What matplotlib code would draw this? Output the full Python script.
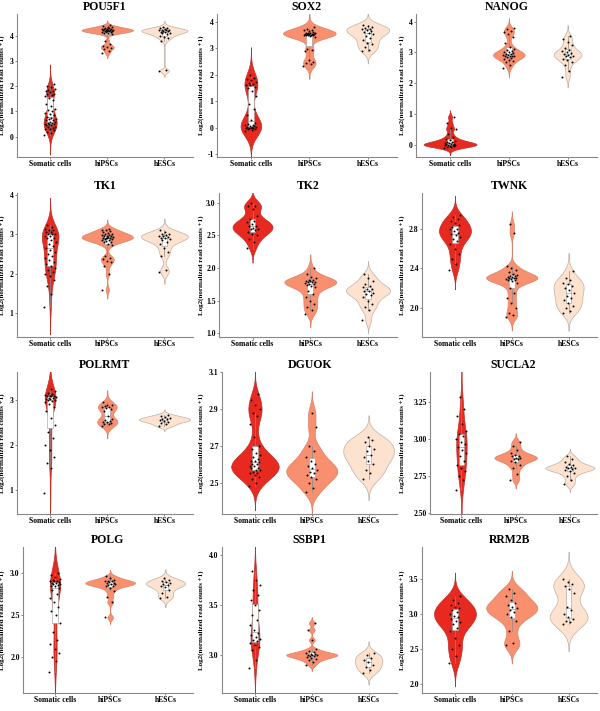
import numpy as np
import matplotlib
matplotlib.use("Agg")
import matplotlib.pyplot as plt
from matplotlib.patches import Rectangle
from matplotlib.transforms import blended_transform_factory

groups = ["Somatic cells", "hiPSCs", "hESCs"]
genes = ["POU5F1", "SOX2", "NANOG", "TK1", "TK2", "TWNK",
         "POLRMT", "DGUOK", "SUCLA2", "POLG", "SSBP1", "RRM2B"]

# ---- values per gene, per group (Somatic cells, hiPSCs, hESCs) ----
pou5f1_som = [0.05,0.15,0.2,0.25,0.3,0.3,0.35,0.4,0.4,0.45,0.45,0.5,0.5,0.5,0.55,0.55,0.6,0.6,0.65,0.65,0.7,0.7,0.75,0.8,0.85,0.9,0.95,1.0,1.05,1.1,1.2,1.3,1.45,1.55,1.6,1.65,1.7,1.7,1.75,1.8,1.8,1.85,1.9,1.95,2.0,2.1]
pou5f1_ips = [3.3,3.4,3.48,3.52,3.55,3.58,3.65,3.8,4.05,4.08,4.1,4.12,4.14,4.15,4.16,4.17,4.18,4.19,4.2,4.2,4.21,4.22,4.23,4.24,4.25,4.26,4.27,4.28,4.3,4.32,4.34,4.37,4.4]
pou5f1_esc = [2.6,2.62,3.8,3.9,3.95,4.0,4.05,4.08,4.1,4.12,4.15,4.17,4.18,4.2,4.2,4.22,4.23,4.25,4.28,4.3,4.35]

sox2_som = [-0.12,-0.08,-0.05,-0.03,-0.02,0,0,0.01,0.02,0.03,0.05,0.06,0.08,0.1,0.12,0.15,0.2,0.3,0.5,0.7,0.9,1.2,1.4,1.5,1.55,1.6,1.62,1.65,1.7,1.75,1.8,1.85,1.9,2.0]
sox2_ips = [2.35,2.4,2.45,2.5,2.55,2.92,2.95,2.98,3.45,3.48,3.5,3.5,3.51,3.52,3.52,3.53,3.54,3.55,3.55,3.56,3.57,3.58,3.6,3.6,3.62,3.65,3.68,3.7,3.75,3.8]
sox2_esc = [2.9,2.95,3.05,3.15,3.2,3.3,3.4,3.48,3.53,3.58,3.62,3.66,3.7,3.72,3.75,3.78,3.81,3.85,3.9]

nanog_som = [-0.12,-0.08,-0.06,-0.04,-0.03,-0.02,-0.01,0,0,0.01,0.02,0.03,0.04,0.06,0.08,0.1,0.12,0.15,0.2,0.25,0.35,0.5,0.55,0.7,0.9]
nanog_ips = [2.5,2.6,2.68,2.72,2.76,2.8,2.82,2.85,2.87,2.88,2.9,2.9,2.92,2.93,2.95,2.96,2.98,3.0,3.02,3.05,3.08,3.12,3.18,3.3,3.5,3.6,3.65,3.7,3.75,3.8]
nanog_esc = [2.2,2.4,2.6,2.7,2.75,2.8,2.84,2.88,2.9,2.92,2.95,2.98,3.0,3.04,3.08,3.15,3.25,3.35,3.45,3.55]

tk1_som = [1.15,1.5,1.7,1.85,1.95,2.0,2.05,2.1,2.15,2.2,2.25,2.3,2.35,2.4,2.45,2.5,2.55,2.6,2.65,2.7,2.75,2.8,2.85,2.9,2.9,2.95,2.95,3.0,3.0,3.0,3.05,3.05,3.1,3.1,3.15,3.2,3.25]
tk1_ips = [1.6,2.0,2.2,2.3,2.33,2.37,2.4,2.45,2.72,2.76,2.8,2.82,2.84,2.86,2.87,2.88,2.89,2.9,2.9,2.91,2.92,2.93,2.94,2.95,2.96,2.97,2.98,2.99,3.0,3.02,3.04,3.06,3.08,3.1,3.12,3.15]
tk1_esc = [2.05,2.1,2.45,2.55,2.65,2.75,2.82,2.86,2.88,2.9,2.92,2.94,2.95,2.96,2.98,3.0,3.02,3.05,3.1]

tk2_som = [2.3,2.4,2.45,2.5,2.52,2.55,2.58,2.6,2.6,2.62,2.65,2.65,2.68,2.7,2.72,2.75,2.8,2.9,2.95,2.95,3.0]
tk2_ips = [1.3,1.35,1.4,1.45,1.5,1.55,1.6,1.65,1.7,1.72,1.74,1.75,1.76,1.77,1.78,1.78,1.79,1.8,1.8,1.81,1.82,1.84,1.86,1.9,2.0]
tk2_esc = [1.2,1.35,1.4,1.45,1.5,1.55,1.58,1.6,1.62,1.64,1.65,1.67,1.68,1.7,1.72,1.75,1.8,1.85,1.9]

twnk_som = [2.38,2.45,2.5,2.55,2.6,2.65,2.68,2.7,2.72,2.74,2.75,2.76,2.78,2.8,2.8,2.82,2.84,2.86,2.88,2.9,2.92,2.95]
twnk_ips = [1.9,1.92,1.95,2.0,2.05,2.1,2.15,2.2,2.25,2.27,2.28,2.28,2.29,2.29,2.3,2.3,2.3,2.31,2.31,2.32,2.32,2.33,2.34,2.36,2.38,2.4,2.42,2.76,2.85]
twnk_esc = [1.95,1.97,2.0,2.02,2.05,2.08,2.1,2.12,2.15,2.18,2.2,2.22,2.24,2.25,2.28,2.3,2.37]

polrmt_som = [0.95,1.5,1.6,1.75,1.9,2.0,2.15,2.3,2.45,2.6,2.75,2.85,2.92,2.95,2.98,3.0,3.0,3.02,3.03,3.05,3.05,3.06,3.08,3.08,3.1,3.1,3.12,3.14,3.16,3.2,3.25]
polrmt_ips = [2.42,2.46,2.48,2.5,2.51,2.52,2.53,2.55,2.58,2.65,2.75,2.8,2.82,2.84,2.85,2.86,2.88,2.9,2.95]
polrmt_esc = [2.42,2.46,2.5,2.52,2.54,2.56,2.57,2.58,2.6,2.62,2.64,2.68]

dguok_som = [2.48,2.5,2.52,2.53,2.54,2.55,2.55,2.56,2.57,2.57,2.58,2.58,2.59,2.59,2.6,2.6,2.61,2.62,2.62,2.63,2.64,2.65,2.66,2.68,2.7,2.75,2.82,2.86,2.88,2.9,2.92,2.95,2.98]
dguok_ips = [2.45,2.47,2.5,2.52,2.53,2.54,2.55,2.56,2.57,2.58,2.59,2.6,2.62,2.64,2.67,2.7,2.8,2.88]
dguok_esc = [2.52,2.55,2.57,2.6,2.62,2.64,2.65,2.67,2.68,2.7,2.72,2.73,2.75]

sucla2_som = [2.65,2.72,2.75,2.78,2.8,2.82,2.85,2.88,2.9,2.92,2.94,2.96,2.98,3.0,3.02,3.03,3.05,3.1,3.15,3.2,3.28]
sucla2_ips = [2.72,2.76,2.8,2.82,2.84,2.85,2.86,2.86,2.87,2.87,2.88,2.88,2.89,2.9,2.92,2.95,2.98]
sucla2_esc = [2.69,2.72,2.75,2.77,2.78,2.79,2.795,2.8,2.8,2.805,2.81,2.82,2.83,2.84,2.86,2.88]

polg_som = [1.82,1.95,2.0,2.05,2.1,2.15,2.2,2.3,2.4,2.5,2.55,2.6,2.65,2.7,2.75,2.8,2.82,2.84,2.85,2.86,2.87,2.87,2.88,2.88,2.89,2.9,2.9,2.91,2.92,2.93,2.95,2.98,3.0]
polg_ips = [2.47,2.65,2.72,2.78,2.82,2.84,2.85,2.86,2.87,2.87,2.88,2.88,2.89,2.9,2.9,2.91,2.92,2.94,2.96]
polg_esc = [2.7,2.72,2.76,2.8,2.83,2.85,2.86,2.87,2.88,2.89,2.9,2.92,2.94]

ssbp1_som = [2.87,2.95,3.05,3.08,3.1,3.12,3.14,3.15,3.16,3.18,3.2,3.22,3.25,3.3,3.35,3.4,3.45,3.5,3.55,3.6,3.65,3.7,3.75,3.84]
ssbp1_ips = [2.9,2.93,2.95,2.96,2.97,2.98,2.99,2.99,3.0,3.0,3.0,3.01,3.01,3.02,3.03,3.04,3.06,3.15,3.25,3.32]
ssbp1_esc = [2.82,2.85,2.88,2.9,2.93,2.95,2.97,3.0,3.02]

rrm2b_som = [2.3,2.4,2.5,2.55,2.65,2.75,2.8,2.85,2.88,2.9,2.92,2.95,2.97,3.0,3.02,3.05,3.08,3.1,3.12,3.15,3.2,3.25]
rrm2b_ips = [2.55,2.58,2.75,2.9,2.95,3.0,3.02,3.05,3.08,3.1,3.12,3.15,3.2,3.25,3.3,3.35]
rrm2b_esc = [2.85,2.88,2.9,2.93,2.95,3.0,3.05,3.1,3.3,3.35,3.4,3.42,3.45,3.5]

# ---- axis ticks per gene ----
ticks = {
    "POU5F1": [0, 1, 2, 3, 4],
    "SOX2": [-1, 0, 1, 2, 3, 4],
    "NANOG": [0, 1, 2, 3, 4],
    "TK1": [1, 2, 3, 4],
    "TK2": [1.0, 1.5, 2.0, 2.5, 3.0],
    "TWNK": [2.0, 2.4, 2.8],
    "POLRMT": [1, 2, 3],
    "DGUOK": [2.5, 2.7, 2.9, 3.1],
    "SUCLA2": [2.50, 2.75, 3.00, 3.25],
    "POLG": [2.0, 2.5, 3.0],
    "SSBP1": [3.0, 3.5, 4.0],
    "RRM2B": [2.0, 2.5, 3.0, 3.5],
}
tick_labels = {
    "POU5F1": ["0", "1", "2", "3", "4"],
    "SOX2": ["-1", "0", "1", "2", "3", "4"],
    "NANOG": ["0", "1", "2", "3", "4"],
    "TK1": ["1", "2", "3", "4"],
    "TK2": ["1.0", "1.5", "2.0", "2.5", "3.0"],
    "TWNK": ["2.0", "2.4", "2.8"],
    "POLRMT": ["1", "2", "3"],
    "DGUOK": ["2.5", "2.7", "2.9", "3.1"],
    "SUCLA2": ["2.50", "2.75", "3.00", "3.25"],
    "POLG": ["2.0", "2.5", "3.0"],
    "SSBP1": ["3.0", "3.5", "4.0"],
    "RRM2B": ["2.0", "2.5", "3.0", "3.5"],
}
ylims = {
    "POU5F1": (-0.8, 4.85), "SOX2": (-1.1, 4.3), "NANOG": (-0.4, 4.25),
    "TK1": (0.4, 4.05), "TK2": (0.94, 3.15), "TWNK": (1.7, 3.17),
    "POLRMT": (0.48, 3.62), "DGUOK": (2.33, 3.1), "SUCLA2": (2.49, 3.45),
    "POLG": (1.57, 3.31), "SSBP1": (2.62, 4.08), "RRM2B": (1.87, 3.95),
}

data = {
    "POU5F1": [pou5f1_som, pou5f1_ips, pou5f1_esc],
    "SOX2": [sox2_som, sox2_ips, sox2_esc],
    "NANOG": [nanog_som, nanog_ips, nanog_esc],
    "TK1": [tk1_som, tk1_ips, tk1_esc],
    "TK2": [tk2_som, tk2_ips, tk2_esc],
    "TWNK": [twnk_som, twnk_ips, twnk_esc],
    "POLRMT": [polrmt_som, polrmt_ips, polrmt_esc],
    "DGUOK": [dguok_som, dguok_ips, dguok_esc],
    "SUCLA2": [sucla2_som, sucla2_ips, sucla2_esc],
    "POLG": [polg_som, polg_ips, polg_esc],
    "SSBP1": [ssbp1_som, ssbp1_ips, ssbp1_esc],
    "RRM2B": [rrm2b_som, rrm2b_ips, rrm2b_esc],
}

colors = ["#E8291F", "#F88F6E", "#FDE2CF"]
edge_colors = ["#B8322A", "#D9826A", "#BFB0A6"]

plt.rcParams["font.family"] = ["Liberation Serif", "DejaVu Serif"]
plt.rcParams["font.weight"] = "bold"


def nrd0(x):
    x = np.asarray(x, float)
    sd = np.std(x, ddof=1)
    q75, q25 = np.percentile(x, [75, 25])
    lo = min(sd, (q75 - q25) / 1.34)
    if lo <= 0:
        lo = sd if sd > 0 else 1.0
    return 0.9 * lo * len(x) ** -0.2


def density(x):
    x = np.asarray(x, float)
    bw = nrd0(x)
    grid = np.linspace(x.min() - 3 * bw, x.max() + 3 * bw, 512)
    d = np.exp(-0.5 * ((grid[:, None] - x[None, :]) / bw) ** 2).sum(1)
    d /= (len(x) * bw * np.sqrt(2 * np.pi))
    return grid, d


fig = plt.figure(figsize=(6.0, 7.11), dpi=100)
W, H = 600.0, 711.0
# per-panel left spine position (px) and right edge per column
panel_left = {"POU5F1": 17, "SOX2": 217, "NANOG": 416,
              "TK1": 17, "TK2": 219, "TWNK": 422,
              "POLRMT": 17, "DGUOK": 222, "SUCLA2": 430,
              "POLG": 23, "SSBP1": 222, "RRM2B": 422}
col_right = [193, 397, 597]
label_x = [5, 204, 405]
row_top = [14, 193, 372, 547]
row_bot = [157, 337, 514, 693]

for idx, gene in enumerate(genes):
    r, c = divmod(idx, 3)
    left = panel_left[gene]
    rect = [left / W, 1 - row_bot[r] / H, (col_right[c] - left) / W,
            (row_bot[r] - row_top[r]) / H]
    ax = fig.add_axes(rect)
    vals = data[gene]
    dens = [density(v) for v in vals]
    dmax = max(d.max() for _, d in dens)
    for k, (v, (g, d)) in enumerate(zip(vals, dens)):
        hw = 0.45 * d / dmax
        ax.fill_betweenx(g, k - hw, k + hw, facecolor=colors[k],
                         edgecolor=edge_colors[k], linewidth=0.5, zorder=1)
        v = np.asarray(v, float)
        q1, med, q3 = np.percentile(v, [25, 50, 75])
        iqr = q3 - q1
        lo = v[v >= q1 - 1.5 * iqr].min()
        hi = v[v <= q3 + 1.5 * iqr].max()
        ax.plot([k, k], [lo, q1], color="#8c8c8c", lw=0.5, zorder=2)
        ax.plot([k, k], [q3, hi], color="#8c8c8c", lw=0.5, zorder=2)
        ax.add_patch(Rectangle((k - 0.05, q1), 0.1, q3 - q1, facecolor="white",
                               edgecolor="#9a9a9a", linewidth=0.4, zorder=3))
        ax.plot([k - 0.05, k + 0.05], [med, med], color="#9a9a9a", lw=0.5, zorder=3)
        n = len(v)
        jit = ((np.arange(n) * 0.6180339887) % 1.0 - 0.5) * 0.2
        ax.scatter(k + jit, v, s=2.0, color="black", linewidths=0, zorder=4)

    ax.set_xlim(-0.58, 2.5)
    ax.set_ylim(*ylims[gene])
    ax.set_xticks([0, 1, 2])
    ax.set_xticklabels(groups, fontsize=5.5, fontweight="bold")
    ax.set_yticks(ticks[gene])
    ax.set_yticklabels(tick_labels[gene], fontsize=5.5, fontweight="bold")
    ax.tick_params(axis="both", length=1.2, width=0.5, pad=1.2, colors="#555555",
                   labelcolor="black")
    for s in ["top", "right"]:
        ax.spines[s].set_visible(False)
    for s in ["left", "bottom"]:
        ax.spines[s].set_color("#888888")
        ax.spines[s].set_linewidth(0.8)
    ax.set_title(gene, fontsize=8.5, fontweight="bold", pad=3)
    ax.set_ylabel("Log2(normalized read counts +1)", fontsize=5.0, fontweight="bold")
    tr = blended_transform_factory(fig.transFigure, ax.transAxes)
    ax.yaxis.set_label_coords(label_x[c] / W, 0.5, transform=tr)
    ax.set_facecolor("white")

fig.savefig("out.png", dpi=100)
